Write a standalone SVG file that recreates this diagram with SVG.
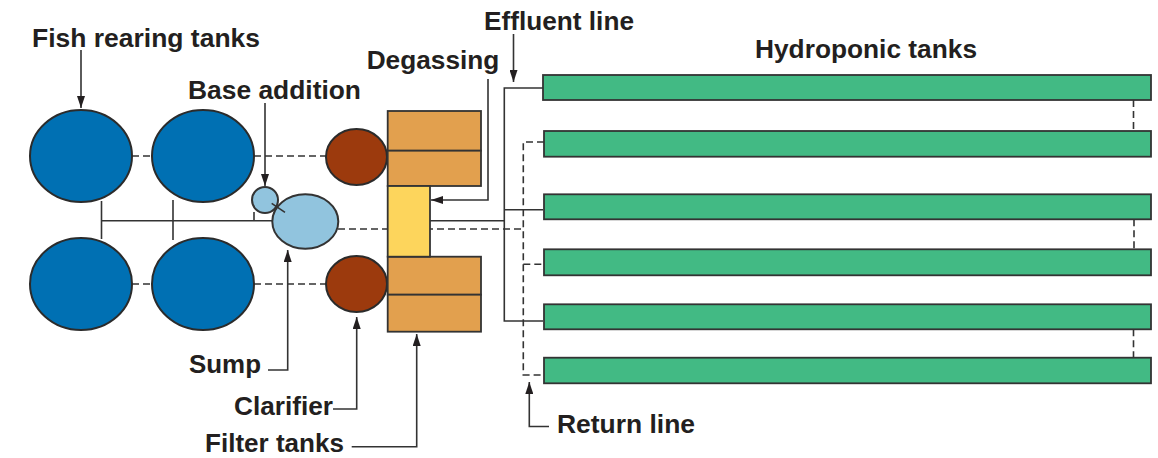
<svg xmlns="http://www.w3.org/2000/svg" width="1158" height="458" viewBox="0 0 1158 458">
<style>
.lbl{font-family:"Liberation Sans",Arial,sans-serif;font-weight:bold;font-size:26px;fill:#231f20}
.edge{stroke:#333;stroke-width:1.6;fill:none}
.dash{stroke:#333;stroke-width:1.6;fill:none;stroke-dasharray:7 4}
.fish{fill:#0070b3;stroke:#2b2b2b;stroke-width:2}
.clar{fill:#9c3a0d;stroke:#2b2b2b;stroke-width:2}
.filt{fill:#e2a04e;stroke:#333;stroke-width:1.8}
.degas{fill:#fdd55c;stroke:#333;stroke-width:1.8}
.sump{fill:#91c4de;stroke:#333;stroke-width:2}
.hydro{fill:#42ba84;stroke:#333;stroke-width:1.8}
</style>
<defs>
<marker id="ah" viewBox="0 0 12 8" refX="12" refY="4" markerWidth="12" markerHeight="8" markerUnits="userSpaceOnUse" orient="auto">
<path d="M0,0 L12,4 L0,8 z" fill="#231f20"/>
</marker>
</defs>
<g id="connectors">
<line class="dash" x1="132" y1="156" x2="152" y2="156"/>
<line class="dash" x1="254" y1="156" x2="326" y2="156"/>
<line class="dash" x1="132" y1="284" x2="152" y2="284"/>
<line class="dash" x1="254" y1="284" x2="326" y2="284"/>
<line class="edge" x1="101.5" y1="201" x2="101.5" y2="239"/>
<line class="edge" x1="173" y1="200" x2="173" y2="240"/>
<line class="edge" x1="101.5" y1="220.7" x2="273" y2="220.7"/>
<line class="edge" x1="254" y1="212" x2="254" y2="220.7"/>
<line class="dash" x1="338" y1="229" x2="525" y2="229"/>
<line class="edge" x1="430" y1="220.7" x2="504.3" y2="220.7"/>
<polyline class="edge" points="543,88 504.3,88 504.3,321 543,321"/>
<line class="edge" x1="504.3" y1="209.7" x2="543" y2="209.7"/>
<polyline class="dash" points="544,142 523.3,142 523.3,375 544,375"/>
<line class="dash" x1="523.3" y1="264.3" x2="544" y2="264.3"/>
<line class="dash" x1="1133.5" y1="100" x2="1133.5" y2="131"/>
<line class="dash" x1="1134" y1="219.3" x2="1134" y2="249.3"/>
<line class="dash" x1="1133.5" y1="329.3" x2="1133.5" y2="357.7"/>
<line class="edge" x1="81" y1="50" x2="81" y2="108" marker-end="url(#ah)"/>
<line class="edge" x1="265" y1="103" x2="265" y2="186" marker-end="url(#ah)"/>
<line class="edge" x1="513.5" y1="34" x2="513.5" y2="82" marker-end="url(#ah)"/>
<polyline class="edge" points="488,79 488,200 431,200" marker-end="url(#ah)"/>
<polyline class="edge" points="268,370 287.7,370 287.7,250" marker-end="url(#ah)"/>
<polyline class="edge" points="333,409 356.7,409 356.7,317" marker-end="url(#ah)"/>
<polyline class="edge" points="351.7,446.7 416.7,446.7 416.7,334" marker-end="url(#ah)"/>
<polyline class="edge" points="549,426.5 529.3,426.5 529.3,382" marker-end="url(#ah)"/>
</g>
<g id="fish-tanks">
<ellipse class="fish" cx="81" cy="156" rx="51" ry="46"/>
<ellipse class="fish" cx="203" cy="156" rx="51" ry="46"/>
<ellipse class="fish" cx="81" cy="284" rx="51" ry="46"/>
<ellipse class="fish" cx="203" cy="284" rx="51" ry="46"/>
</g>
<g id="sump">
<circle class="sump" cx="265" cy="200" r="13"/>
<ellipse class="sump" cx="305.3" cy="221.5" rx="33" ry="27.3"/>
<line class="edge" x1="271.7" y1="203.3" x2="285" y2="212.3"/>
</g>
<g id="clarifiers">
<ellipse class="clar" cx="356.5" cy="157" rx="30.5" ry="28"/>
<ellipse class="clar" cx="356.5" cy="284" rx="30.5" ry="28"/>
</g>
<g id="filter-tanks">
<rect class="filt" x="387.7" y="111" width="93.3" height="39.7"/>
<rect class="filt" x="387.7" y="150.7" width="93.3" height="35.3"/>
<rect class="filt" x="387.7" y="256.7" width="93.3" height="38"/>
<rect class="filt" x="387.7" y="294.7" width="93.3" height="37"/>
</g>
<g id="degassing">
<rect class="degas" x="387.7" y="186" width="42.3" height="70.7"/>
</g>
<g id="hydroponic-tanks">
<rect class="hydro" x="543" y="75" width="608" height="25"/>
<rect class="hydro" x="544" y="131" width="607" height="25.7"/>
<rect class="hydro" x="544" y="194.3" width="607" height="25"/>
<rect class="hydro" x="544" y="249.3" width="607" height="26"/>
<rect class="hydro" x="544" y="304.3" width="607" height="25"/>
<rect class="hydro" x="544" y="357.7" width="607" height="25.6"/>
</g>
<g id="labels">
<text class="lbl" x="32" y="46.7" textLength="228" lengthAdjust="spacingAndGlyphs">Fish rearing tanks</text>
<text class="lbl" x="188" y="99" textLength="173" lengthAdjust="spacingAndGlyphs">Base addition</text>
<text class="lbl" x="366.7" y="69.3" textLength="132.6" lengthAdjust="spacingAndGlyphs">Degassing</text>
<text class="lbl" x="484" y="30" textLength="150" lengthAdjust="spacingAndGlyphs">Effluent line</text>
<text class="lbl" x="755" y="58.3" textLength="222" lengthAdjust="spacingAndGlyphs">Hydroponic tanks</text>
<text class="lbl" x="189" y="373" textLength="72" lengthAdjust="spacingAndGlyphs">Sump</text>
<text class="lbl" x="234" y="415" textLength="99" lengthAdjust="spacingAndGlyphs">Clarifier</text>
<text class="lbl" x="205" y="451.7" textLength="139" lengthAdjust="spacingAndGlyphs">Filter tanks</text>
<text class="lbl" x="557" y="433" textLength="138" lengthAdjust="spacingAndGlyphs">Return line</text>
</g>
</svg>
